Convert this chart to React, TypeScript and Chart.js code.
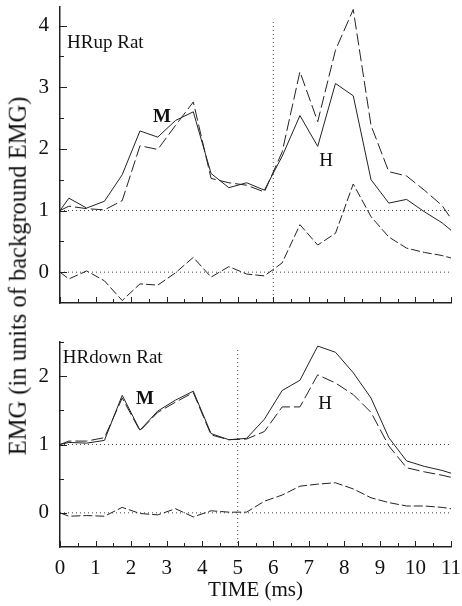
import React, { useEffect, useRef } from 'react';
import { Chart, registerables } from 'chart.js';

Chart.register(...registerables);

// ---------- data ----------
const times = [0, 0.25, 0.75, 1.25, 1.75, 2.25, 2.75, 3.25, 3.75, 4.25, 4.75, 5.25, 5.75, 6.25, 6.75, 7.25, 7.75, 8.25, 8.75, 9.25, 9.75, 10.25, 10.75, 11];

// HRup rat
const upSolid = [1.0, 1.2, 1.04, 1.15, 1.58, 2.29, 2.19, 2.46, 2.6, 1.6, 1.37, 1.45, 1.33, 1.88, 2.54, 2.04, 3.06, 2.86, 1.5, 1.12, 1.18, 0.98, 0.8, 0.68];
const upDashed = [1.0, 1.07, 1.03, 1.01, 1.16, 2.05, 1.99, 2.38, 2.76, 1.52, 1.45, 1.41, 1.3, 1.95, 3.25, 2.44, 3.6, 4.26, 2.38, 1.63, 1.56, 1.33, 1.08, 0.87];
const upDiff = [0, -0.11, 0.02, -0.14, -0.46, -0.19, -0.21, -0.01, 0.24, -0.08, 0.09, -0.03, -0.06, 0.15, 0.77, 0.44, 0.63, 1.43, 0.9, 0.57, 0.39, 0.32, 0.27, 0.23];

// HRdown rat
const downSolid = [1.0, 1.03, 1.02, 1.06, 1.72, 1.21, 1.49, 1.65, 1.78, 1.16, 1.07, 1.09, 1.37, 1.79, 1.94, 2.44, 2.35, 2.05, 1.68, 1.1, 0.76, 0.68, 0.62, 0.58];
const downDashed = [1.0, 1.05, 1.05, 1.1, 1.68, 1.2, 1.47, 1.62, 1.76, 1.14, 1.07, 1.08, 1.19, 1.55, 1.55, 2.02, 1.9, 1.73, 1.47, 0.98, 0.66, 0.6, 0.55, 0.52];
const downDiff = [0, -0.05, -0.04, -0.05, 0.08, -0.01, -0.03, 0.06, -0.06, 0.03, 0.01, 0.01, 0.17, 0.26, 0.39, 0.42, 0.44, 0.35, 0.22, 0.15, 0.1, 0.1, 0.08, 0.06];

const refLevels = [0, 1];
const xRange = [0, 11];
const xTickValues = [0, 0.5, 1, 1.5, 2, 2.5, 3, 3.5, 4, 4.5, 5, 5.5, 6, 6.5, 7, 7.5, 8, 8.5, 9, 9.5, 10, 10.5, 11];
const upYRange = [-0.5, 4.3];
const upYTicks = [-0.5, 0, 0.5, 1, 1.5, 2, 2.5, 3, 3.5, 4];
const downYRange = [-0.5, 2.5];
const downYTicks = [-0.5, 0, 0.5, 1, 1.5, 2, 2.5];
const upStimTime = 6;
const upStimTop = 4.1;
const downStimTime = 5;
const downStimTop = 2.4;

const upLabels = [
  { text: 'HRup Rat', x: 0.2, y: 3.71, bold: false, align: 'left' },
  { text: 'M', x: 2.87, y: 2.51, bold: true, align: 'center' },
  { text: 'H', x: 7.49, y: 1.8, bold: false, align: 'center' },
];
const downLabels = [
  { text: 'HRdown Rat', x: 0.08, y: 2.26, bold: false, align: 'left' },
  { text: 'M', x: 2.39, y: 1.67, bold: true, align: 'center' },
  { text: 'H', x: 7.46, y: 1.59, bold: false, align: 'center' },
];

const FONT = "'Liberation Serif', 'Times New Roman', serif";
const INK = '#222';

// ---------- plugins ----------
const inwardTicks = {
  id: 'inwardTicks',
  afterDraw(chart: any) {
    const { ctx, chartArea, scales } = chart;
    const xs = scales.x, ys = scales.y;
    ctx.save();
    ctx.strokeStyle = INK;
    ctx.lineWidth = 1;
    xs.ticks.forEach((t: any) => {
      const px = Math.round(xs.getPixelForValue(t.value)) + 0.5;
      const len = Number.isInteger(t.value) ? 6 : 4;
      ctx.beginPath();
      ctx.moveTo(px, chartArea.bottom);
      ctx.lineTo(px, chartArea.bottom - len);
      ctx.stroke();
    });
    ys.ticks.forEach((t: any) => {
      if (t.value <= ys.min) return;
      const py = Math.round(ys.getPixelForValue(t.value)) + 0.5;
      const len = Number.isInteger(t.value) ? 7 : 4;
      ctx.beginPath();
      ctx.moveTo(chartArea.left, py);
      ctx.lineTo(chartArea.left + len, py);
      ctx.stroke();
    });
    ctx.restore();
  },
};

const textLabels = {
  id: 'textLabels',
  afterDraw(chart: any, _args: any, opts: any) {
    const { ctx, scales } = chart;
    ctx.save();
    ctx.fillStyle = '#111';
    ctx.textBaseline = 'middle';
    (opts.items || []).forEach((it: any) => {
      ctx.font = `${it.bold ? 'bold ' : ''}19px ${FONT}`;
      ctx.textAlign = it.align;
      ctx.fillText(it.text, scales.x.getPixelForValue(it.x), scales.y.getPixelForValue(it.y));
    });
    ctx.restore();
  },
};

// ---------- config ----------
function series(vals: number[]) {
  return times.map((t, i) => ({ x: t, y: vals[i] }));
}

function lineDs(vals: number[], dash: number[]) {
  return {
    data: series(vals),
    borderColor: INK,
    borderWidth: 1,
    borderDash: dash,
    pointRadius: 0,
    tension: 0,
    fill: false,
  };
}

function refDs(points: { x: number; y: number }[]) {
  return {
    data: points,
    borderColor: '#444',
    borderWidth: 1,
    borderDash: [1, 3],
    pointRadius: 0,
    fill: false,
  };
}

function makeConfig(opts: any) {
  const datasets: any[] = [
    lineDs(opts.solid, []),
    lineDs(opts.dashed, [12, 4]),
    lineDs(opts.diff, [9, 3]),
    ...refLevels.map((lv) => refDs([{ x: xRange[0], y: lv }, { x: xRange[1], y: lv }])),
    refDs([{ x: opts.stim, y: opts.yRange[0] }, { x: opts.stim, y: opts.stimTop }]),
  ];
  return {
    type: 'line',
    data: { datasets },
    options: {
      animation: false,
      responsive: false,
      maintainAspectRatio: false,
      layout: { padding: { top: opts.padTop, right: 11, left: 0, bottom: 0 } },
      plugins: {
        legend: { display: false },
        tooltip: { enabled: false },
        textLabels: { items: opts.labels },
      },
      scales: {
        x: {
          type: 'linear',
          min: xRange[0],
          max: xRange[1],
          grid: { drawOnChartArea: false, drawTicks: false },
          border: { display: true, color: INK, width: 1.5 },
          afterBuildTicks: (s: any) => {
            s.ticks = xTickValues.map((v) => ({ value: v }));
          },
          ticks: {
            display: opts.showX,
            autoSkip: false,
            maxRotation: 0,
            padding: 9,
            color: '#111',
            font: { family: FONT, size: 21 },
            callback: (v: number) => (Number.isInteger(v) ? String(v) : ''),
          },
          title: {
            display: opts.showX,
            text: 'TIME (ms)',
            color: '#111',
            font: { family: FONT, size: 21 },
            padding: { top: 0, bottom: 3 },
          },
          afterFit: (s: any) => {
            s.height = opts.xHeight;
            s.paddingLeft = 0;
            s.paddingRight = 0;
          },
        },
        y: {
          type: 'linear',
          min: opts.yRange[0],
          max: opts.yRange[1],
          grid: { drawOnChartArea: false, drawTicks: false },
          border: { display: true, color: INK, width: 1.5 },
          afterBuildTicks: (s: any) => {
            s.ticks = opts.yTicks.map((v: number) => ({ value: v }));
          },
          ticks: {
            autoSkip: false,
            padding: 11,
            color: '#111',
            font: { family: FONT, size: 21 },
            callback: (v: number) => (Number.isInteger(v) ? String(v) : ''),
          },
          afterFit: (s: any) => {
            s.width = 60;
            s.paddingTop = 0;
            s.paddingBottom = 0;
          },
        },
      },
    },
    plugins: [inwardTicks, textLabels],
  };
}

function Panel({ top, height, cfg }: { top: number; height: number; cfg: any }) {
  const ref = useRef<HTMLCanvasElement | null>(null);
  useEffect(() => {
    if (!ref.current) return;
    const chart = new Chart(ref.current, cfg);
    return () => chart.destroy();
  }, []);
  return (
    <canvas
      ref={ref}
      width={462}
      height={height}
      style={{ position: 'absolute', left: 0, top, width: 462, height, display: 'block' }}
    />
  );
}

export default function App() {
  const upCfg = makeConfig({
    solid: upSolid, dashed: upDashed, diff: upDiff,
    yRange: upYRange, yTicks: upYTicks, stim: upStimTime, stimTop: upStimTop,
    labels: upLabels, padTop: 7, xHeight: 17, showX: false,
  });
  const downCfg = makeConfig({
    solid: downSolid, dashed: downDashed, diff: downDiff,
    yRange: downYRange, yTicks: downYTicks, stim: downStimTime, stimTop: downStimTop,
    labels: downLabels, padTop: 22, xHeight: 59, showX: true,
  });
  return (
    <div style={{ position: 'fixed', left: 0, top: 0, width: 462, height: 606, background: '#fff', overflow: 'hidden' }}>
      <Panel top={0} height={320} cfg={upCfg} />
      <Panel top={320} height={286} cfg={downCfg} />
      <div
        style={{
          position: 'absolute',
          left: 18,
          top: 276,
          transform: 'translate(-50%, -50%) rotate(-90deg)',
          whiteSpace: 'nowrap',
          fontFamily: FONT,
          fontSize: 24.5,
          color: '#111',
          lineHeight: 1,
        }}
      >
        EMG (in units of background EMG)
      </div>
    </div>
  );
}
